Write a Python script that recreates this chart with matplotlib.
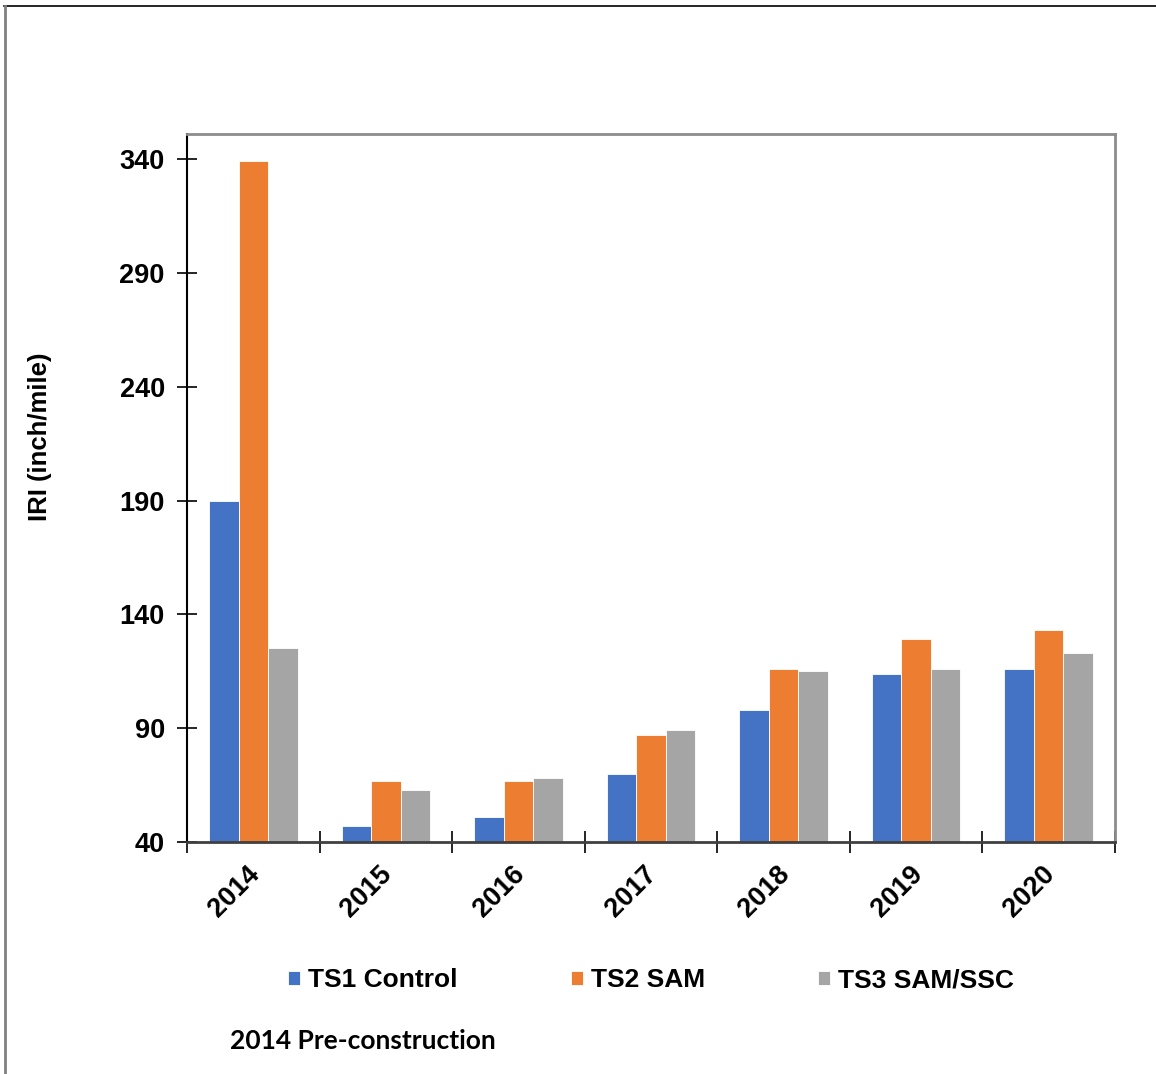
import numpy as np
import matplotlib.pyplot as plt
from matplotlib.lines import Line2D
from matplotlib.transforms import ScaledTranslation

years = ["2014", "2015", "2016", "2017", "2018", "2019", "2020"]
ts1_control = [190, 47, 51, 70, 98, 114, 116]
ts2_sam = [339, 67, 67, 87, 116, 129, 133]
ts3_sam_ssc = [125, 63, 68, 89, 115, 116, 123]

series = [
    ("TS1 Control", ts1_control, "#4472C4"),
    ("TS2 SAM", ts2_sam, "#ED7D31"),
    ("TS3 SAM/SSC", ts3_sam_ssc, "#A5A5A5"),
]

plt.rcParams['font.family'] = ['Liberation Sans', 'DejaVu Sans']

fig = plt.figure(figsize=(11.56, 10.74), dpi=100)
ax = fig.add_axes([187 / 1156, 1 - 842 / 1074, 928 / 1156, 708 / 1074])

x = np.arange(len(years))
w = 0.223
for i, (name, vals, col) in enumerate(series):
    ax.bar(x + (i - 1) * w, np.array(vals) - 40, width=w, bottom=40,
           color=col, edgecolor="white", linewidth=0.6, label=name, zorder=2)

ax.set_xlim(-0.5, len(years) - 0.5)
ax.set_ylim(40, 351)
ax.set_yticks(np.arange(40, 341, 50))
ax.set_yticklabels([str(v) for v in range(40, 341, 50)], fontsize=19.5, fontweight="bold")

# ticks sit between categories, labels centred under each group
ax.set_xticks(np.arange(len(years) + 1) - 0.5)
ax.set_xticklabels([])
ax.tick_params(axis="x", direction="inout", length=16, width=1.2, color="black")
ax.tick_params(axis="y", direction="inout", length=14, width=1.2, color="black", pad=9)

offset = ScaledTranslation(-0.07, -0.19, fig.dpi_scale_trans)
for xi, yr in zip(x, years):
    ax.text(xi, 40, yr, rotation=45, ha="right", va="top", rotation_mode="anchor",
            fontsize=19.5, fontweight="bold",
            transform=ax.transData + offset)

for side in ("top", "right"):
    ax.spines[side].set_color("#8c8c8c")
    ax.spines[side].set_linewidth(2)
ax.spines["left"].set_color("black")
ax.spines["left"].set_linewidth(1.5)
ax.spines["bottom"].set_color("#404040")
ax.spines["bottom"].set_linewidth(2)

ax.set_ylabel("IRI (inch/mile)", fontsize=18.5, fontweight="bold")
ax.yaxis.set_label_coords((52 - 187) / 928, (842 - 437) / 708)

ax.legend(loc="center", bbox_to_anchor=(651 / 1156, 1 - 980 / 1074), bbox_transform=fig.transFigure,
          ncol=3, frameon=False, prop={"size": 19, "weight": "bold"},
          handlelength=0.45, handleheight=0.45, handletextpad=0.3, columnspacing=4.3)

fig.text(230 / 1156, 1 - 1041 / 1074, "2014 Pre-construction", fontsize=19,
         fontweight="bold", family=["Lato", "DejaVu Sans"], va="center", ha="left")

# outer frame
fig.add_artist(Line2D([4 / 1156, 1], [1 - 6 / 1074, 1 - 6 / 1074], color="black",
                      linewidth=1.2, transform=fig.transFigure))
fig.add_artist(Line2D([5 / 1156, 5 / 1156], [0, 1 - 6 / 1074], color="#808080",
                      linewidth=2, transform=fig.transFigure))

fig.savefig("out.png", dpi=100)
